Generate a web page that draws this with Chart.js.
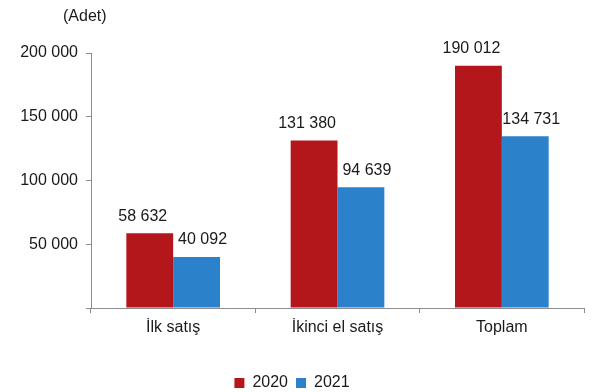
<!DOCTYPE html>
<html lang="tr">
<head>
<meta charset="utf-8">
<title>Satış sayıları</title>
<script src="https://cdn.jsdelivr.net/npm/chart.js@4/dist/chart.umd.min.js"></script>
<style>
    html, body { margin: 0; padding: 0; background: #fff; }
    #wrap { width: 594px; height: 392px; }
</style>
</head>
<body>
<div id="wrap"><canvas id="chartSales" width="594" height="392"></canvas></div>
<script>
// ── Data ────────────────────────────────────────────────────
const categories = ['İlk satış', 'İkinci el satış', 'Toplam'];
const sales2020  = [58632, 131380, 190012];
const sales2021  = [40092, 94639, 134731];
const seriesLabels = ['2020', '2021'];
const yTicks     = [0, 50000, 100000, 150000, 200000];

const RED  = '#B3161B';
const BLUE = '#2B82CA';
const AXIS = '#8C8C8C';
const FONT = "'Liberation Sans', Arial, sans-serif";

Chart.defaults.font.family = FONT;
Chart.defaults.font.size = 16;
Chart.defaults.color = '#1a1a1a';

// 12345 -> "12 345"
const fmt = v => String(v).replace(/\B(?=(\d{3})+(?!\d))/g, ' ');

// ── Value labels above each bar ─────────────────────────────
const valueLabels = {
    id: 'valueLabels',
    afterDatasetsDraw(chart) {
        const ctx = chart.ctx;
        ctx.save();
        ctx.font = '16px ' + FONT;
        ctx.fillStyle = '#1a1a1a';
        ctx.textAlign = 'center';
        ctx.textBaseline = 'middle';
        const shift = [-7, 6];   // nudge labels outward so pairs don't collide
        chart.data.datasets.forEach((ds, i) => {
            chart.getDatasetMeta(i).data.forEach((bar, j) => {
                ctx.fillText(fmt(ds.data[j]), bar.x + shift[i], bar.y - 17);
            });
        });
        ctx.restore();
    }
};

// ── Unit caption top-left ───────────────────────────────────
const unitCaption = {
    id: 'unitCaption',
    afterDraw(chart) {
        const ctx = chart.ctx;
        ctx.save();
        ctx.font = '16px ' + FONT;
        ctx.fillStyle = '#1a1a1a';
        ctx.textAlign = 'left';
        ctx.textBaseline = 'middle';
        ctx.fillText('(Adet)', chart.chartArea.left - 28, 17);
        ctx.restore();
    }
};

const ctx = document.getElementById('chartSales').getContext('2d');

new Chart(ctx, {
    type: 'bar',
    data: {
        labels: categories,
        datasets: [
            { label: seriesLabels[0], data: sales2020, backgroundColor: RED },
            { label: seriesLabels[1], data: sales2021, backgroundColor: BLUE }
        ]
    },
    options: {
        responsive: false,
        animation: false,
        maintainAspectRatio: false,
        categoryPercentage: 0.57,
        barPercentage: 1.0,
        // legend box carries a fixed 10px pad below; pull it back down
        layout: { padding: { top: 53, right: 10, bottom: -9, left: 0 } },
        plugins: {
            legend: {
                position: 'bottom',
                labels: {
                    boxWidth: 10,
                    boxHeight: 10,
                    padding: 8,
                    color: '#1a1a1a',
                    font: { size: 16 }
                }
            },
            tooltip: { enabled: false }
        },
        scales: {
            x: {
                grid: {
                    drawOnChartArea: false,
                    drawTicks: true,
                    tickLength: 5,
                    tickColor: AXIS
                },
                border: { display: true, color: AXIS, width: 1 },
                ticks: { padding: 5, font: { size: 16 }, color: '#1a1a1a' },
                afterFit: s => { s.height = 59; }
            },
            y: {
                min: 0,
                max: 200000,
                afterBuildTicks: s => { s.ticks = yTicks.map(v => ({ value: v })); },
                grid: {
                    drawOnChartArea: false,
                    drawTicks: true,
                    tickLength: 5,
                    tickColor: AXIS
                },
                border: { display: true, color: AXIS, width: 1 },
                ticks: {
                    padding: 8,
                    font: { size: 16 },
                    color: '#1a1a1a',
                    callback: v => v === 0 ? '' : fmt(v)
                },
                afterFit: s => { s.width = 91; }
            }
        }
    },
    plugins: [valueLabels, unitCaption]
});
</script>
</body>
</html>
